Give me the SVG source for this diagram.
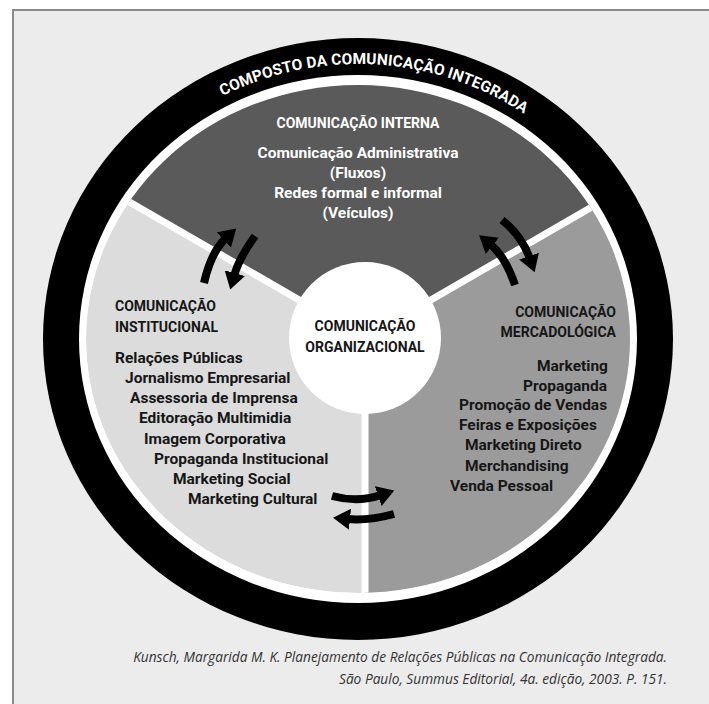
<svg xmlns="http://www.w3.org/2000/svg" xmlns:xlink="http://www.w3.org/1999/xlink" width="709" height="704" viewBox="0 0 709 704">
  <defs>
    <style>
      .lbl { font-family: Roboto, "Liberation Sans", sans-serif; font-weight: 700; }
      .hd { font-size: 14px; }
      .it { font-size: 15.5px; }
      .dark { fill: #161616; }
      .white { fill: #ffffff; }
      .arrow { fill: none; stroke: #000; stroke-width: 8; marker-end: url(#ah); }
      .div { stroke: #ffffff; stroke-width: 7; }
      .cite { font-family: "Open Sans", "Liberation Sans", sans-serif; font-style: italic; font-size: 13.7px; fill: #333333; }
    </style>
    <marker id="ah" markerUnits="userSpaceOnUse" markerWidth="17" markerHeight="21" viewBox="0 0 17 21" refX="3" refY="10.5" orient="auto">
      <path d="M0,0 L17,10.5 L0,21 z" fill="#000"/>
    </marker>
    <clipPath id="sectorClip">
      <ellipse cx="358" cy="339" rx="272" ry="254"/>
    </clipPath>
    <path id="ringPath" d="M 69,339 A 289 275 0 0 1 647,339" fill="none"/>
  </defs>

  <rect x="0" y="0" width="709" height="704" fill="#ffffff"/>
  <g id="frame">
    <rect x="13" y="10" width="710" height="710" fill="#ececec" stroke="#8a8a8a" stroke-width="2"/>
  </g>

  <g id="ring">
    <ellipse cx="358" cy="339" rx="315" ry="301" fill="#000000"/>
    <ellipse cx="358" cy="339" rx="279" ry="264" fill="#ffffff"/>
  </g>

  <g id="sectors" clip-path="url(#sectorClip)">
    <ellipse cx="358" cy="339" rx="272" ry="254" fill="#dcdcdc"/>
    <polygon points="365,338 18.6,138 18.6,0 711.4,0 711.4,138" fill="#5a5a5a"/>
    <polygon points="365,338 711.4,138 711.4,704 365,704" fill="#9b9b9b"/>
    <line class="div" x1="365" y1="338" x2="18.6" y2="138"/>
    <line class="div" x1="365" y1="338" x2="711.4" y2="138"/>
    <line class="div" x1="365" y1="338" x2="365" y2="704"/>
  </g>

  <g id="ring-title">
    <text class="lbl" fill="#ffffff" font-size="15.5" letter-spacing="0.1" text-anchor="middle"><textPath xlink:href="#ringPath" href="#ringPath" startOffset="52%">COMPOSTO DA COMUNICAÇÃO INTEGRADA</textPath></text>
  </g>

  <g id="node-interna" class="lbl white" text-anchor="middle">
    <text class="hd" x="358" y="128">COMUNICAÇÃO INTERNA</text>
    <text class="it" x="358" y="158">Comunicação Administrativa</text>
    <text class="it" x="358" y="178">(Fluxos)</text>
    <text class="it" x="358" y="198">Redes formal e informal</text>
    <text class="it" x="358" y="218">(Veículos)</text>
  </g>

  <g id="node-institucional" class="lbl dark">
    <text class="hd" x="115" y="311">COMUNICAÇÃO</text>
    <text class="hd" x="115" y="332">INSTITUCIONAL</text>
    <text class="it" x="115" y="363">Relações Públicas</text>
    <text class="it" x="125" y="383">Jornalismo Empresarial</text>
    <text class="it" x="130" y="403">Assessoria de Imprensa</text>
    <text class="it" x="139" y="423">Editoração Multimidia</text>
    <text class="it" x="144" y="444">Imagem Corporativa</text>
    <text class="it" x="154" y="464">Propaganda Institucional</text>
    <text class="it" x="173" y="484">Marketing Social</text>
    <text class="it" x="188" y="504">Marketing Cultural</text>
  </g>

  <g id="node-mercadologica" class="lbl dark">
    <text class="hd" x="616" y="317" text-anchor="end">COMUNICAÇÃO</text>
    <text class="hd" x="616" y="337" text-anchor="end">MERCADOLÓGICA</text>
    <text class="it" x="537" y="371">Marketing</text>
    <text class="it" x="523" y="391">Propaganda</text>
    <text class="it" x="459" y="410">Promoção de Vendas</text>
    <text class="it" x="459" y="430">Feiras e Exposições</text>
    <text class="it" x="465" y="450">Marketing Direto</text>
    <text class="it" x="465" y="471">Merchandising</text>
    <text class="it" x="450" y="491">Venda Pessoal</text>
  </g>

  <g id="node-organizacional">
    <circle cx="365" cy="338" r="76" fill="#ffffff"/>
    <g class="lbl dark" text-anchor="middle">
      <text class="hd" x="365" y="331">COMUNICAÇÃO</text>
      <text class="hd" x="365" y="352">ORGANIZACIONAL</text>
    </g>
  </g>

  <g id="connectors">
    <path class="arrow" d="M204,283 Q211,252 226,238"/>
    <path class="arrow" d="M255,236 Q239,258 234,276"/>
    <path class="arrow" d="M515,285 Q505,256 490,244"/>
    <path class="arrow" d="M502,220 Q522,236 530,259"/>
    <path class="arrow" d="M332,496 Q358,503 381,495"/>
    <path class="arrow" d="M394,514 Q368,521 347,519"/>
  </g>

  <g id="citation" text-anchor="end">
    <text class="cite" x="667" y="662">Kunsch, Margarida M. K. Planejamento de Relações Públicas na Comunicação Integrada.</text>
    <text class="cite" x="667" y="684">São Paulo, Summus Editorial, 4a. edição, 2003. P. 151.</text>
  </g>
</svg>
